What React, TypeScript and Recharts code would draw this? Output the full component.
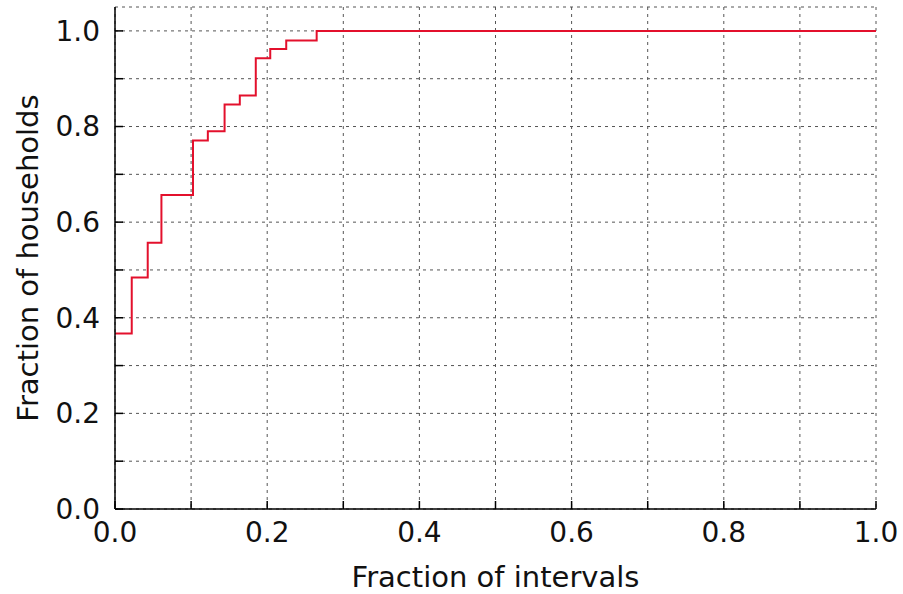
import { LineChart, Line, XAxis, YAxis, CartesianGrid } from "recharts";

const xSteps = [0, 0.022, 0.043, 0.061, 0.1025, 0.122, 0.144, 0.164, 0.185, 0.204, 0.225, 0.265, 1.0];
const ySteps = [0.367, 0.484, 0.557, 0.657, 0.771, 0.79, 0.846, 0.865, 0.943, 0.962, 0.98, 1.0, 1.0];

const gridTicks = [0, 0.1, 0.2, 0.3, 0.4, 0.5, 0.6, 0.7, 0.8, 0.9, 1.0];
const labelTicks = [0, 0.2, 0.4, 0.6, 0.8, 1.0];

const data = xSteps.map((x, i) => ({ x, y: ySteps[i] }));

const fmt = (v: number) =>
	labelTicks.some((t) => Math.abs(t - v) < 1e-9) ? v.toFixed(1) : "";

const font = "DejaVu Sans, sans-serif";

const App = () => (
	<div style={{ position: "absolute", left: 0, top: 0, background: "#fff" }}>
		<LineChart
			width={903}
			height={594}
			data={data}
			margin={{ top: 7, right: 27, left: 0, bottom: 0 }}>
			<CartesianGrid
				stroke='#555'
				strokeDasharray='3 4'
				strokeWidth={1}
			/>
			<XAxis
				dataKey='x'
				type='number'
				domain={[0, 1]}
				ticks={gridTicks}
				tickFormatter={fmt}
				height={85}
				stroke='#000'
				strokeWidth={1.5}
				tickSize={-8}
				tickMargin={21}
				tick={{ fill: "#111", fontSize: 28, fontFamily: font }}
				label={{
					value: "Fraction of intervals",
					position: "insideBottom",
					offset: 7,
					fill: "#111",
					fontSize: 29,
					fontFamily: font,
				}}
			/>
			<XAxis
				xAxisId='top'
				orientation='top'
				type='number'
				domain={[0, 1]}
				ticks={gridTicks}
				height={0}
				stroke='#000'
				strokeWidth={1.5}
				tickSize={-8}
				tick={false}
			/>
			<YAxis
				type='number'
				domain={[0, 1.05]}
				ticks={gridTicks}
				tickFormatter={fmt}
				allowDataOverflow
				width={115}
				stroke='#000'
				strokeWidth={1.5}
				tickSize={-8}
				tickMargin={23}
				tick={{ fill: "#111", fontSize: 28, fontFamily: font }}
				label={{
					value: "Fraction of households",
					angle: -90,
					position: "center",
					dx: -30,
					fill: "#111",
					fontSize: 29,
					fontFamily: font,
				}}
			/>
			<YAxis
				yAxisId='right'
				orientation='right'
				type='number'
				domain={[0, 1.05]}
				ticks={gridTicks}
				allowDataOverflow
				width={0}
				stroke='#000'
				strokeWidth={1.5}
				tickSize={-8}
				tick={false}
			/>
			<Line
				dataKey='y'
				type='stepAfter'
				stroke='#e3102c'
				strokeWidth={2}
				dot={false}
				isAnimationActive={false}
			/>
		</LineChart>
	</div>
);

export default App;
